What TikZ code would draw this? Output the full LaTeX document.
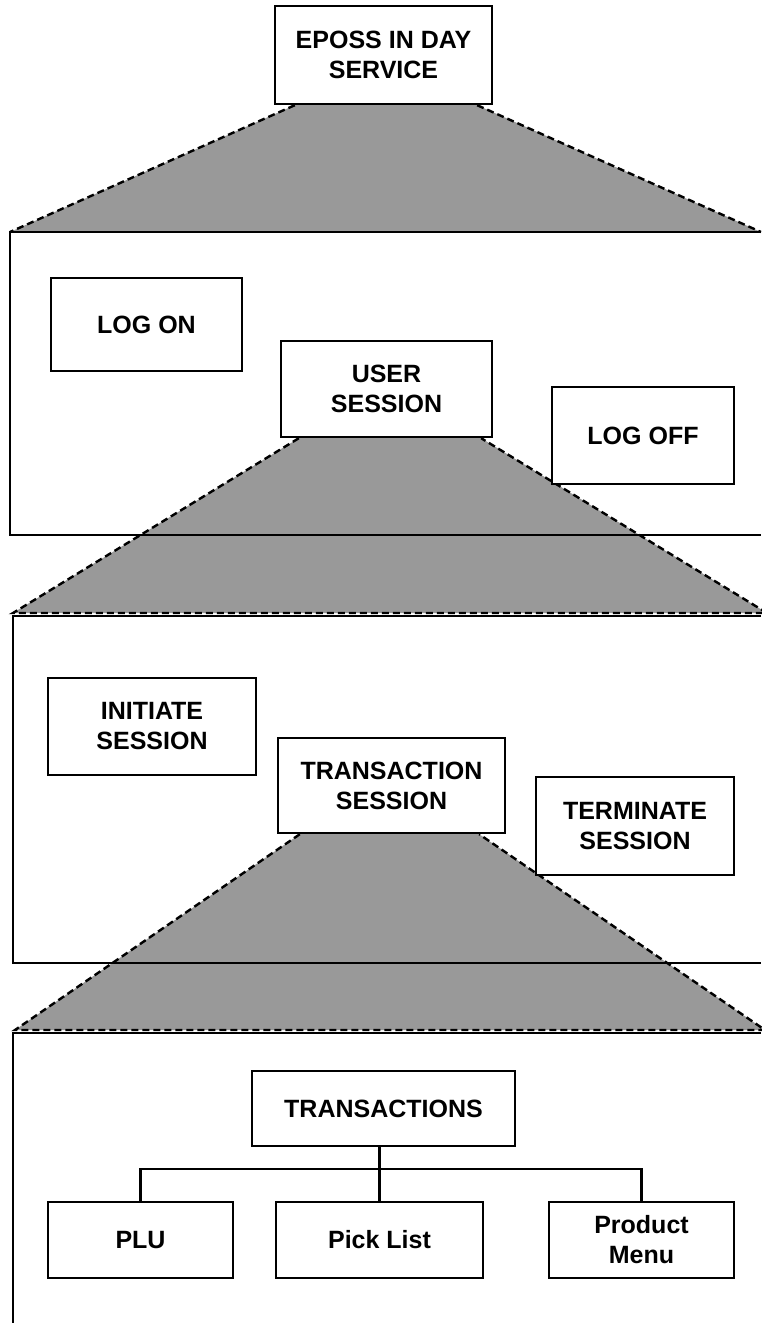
\documentclass[tikz,border=0pt]{standalone}
\usepackage{fontspec}
\setmainfont{Liberation Sans}
\usetikzlibrary{calc}
\pgfdeclarelayer{background}
\pgfsetlayers{background,main}
\tikzset{
  box/.style={draw, line width=2.4pt, fill=white, align=center, inner sep=0pt,
    font=\fontsize{25}{30}\selectfont\bfseries},
  funnel/.style={fill=black!40},
  rim/.style={line width=2.4pt, dash pattern=on 7pt off 4pt},
  frameline/.style={line width=2.4pt},
  wire/.style={line width=2.4pt},
}
\begin{document}
\begin{tikzpicture}[x=1pt,y=-1pt]
\useasboundingbox (0,0) rectangle (761,1323);
\clip (0,0) rectangle (761,1323);

% ---- level 0
\node[box, minimum width=217pt, minimum height=98pt] (eposs) at (383.5,55) {EPOSS IN DAY\\SERVICE};

% ---- level 1
\node[box, minimum width=191pt, minimum height=93pt] (logon) at (146.5,324.5) {LOG ON};
\node[box, minimum width=211pt, minimum height=96pt] (user) at (386.5,389) {USER\\SESSION};
\node[box, minimum width=182pt, minimum height=97pt] (logoff) at (643,435.5) {LOG OFF};

% ---- level 2
\node[box, minimum width=208pt, minimum height=97pt] (init) at (152,726.5) {INITIATE\\SESSION};
\node[box, minimum width=227pt, minimum height=95pt] (trsess) at (391.5,785.5) {TRANSACTION\\SESSION};
\node[box, minimum width=198pt, minimum height=98pt] (term) at (635,826) {TERMINATE\\SESSION};

% ---- level 3
\node[box, minimum width=263pt, minimum height=75pt] (trans) at (383.5,1108.5) {TRANSACTIONS};
\node[box, minimum width=185pt, minimum height=76pt] (plu) at (140.5,1240) {PLU};
\node[box, minimum width=207pt, minimum height=76pt] (pick) at (379.5,1240) {Pick List};
\node[box, minimum width=185pt, minimum height=76pt] (menu) at (641.5,1240) {Product\\Menu};

% tree connectors
\draw[wire] (plu.north) -- ++(0,-32) -| (menu.north);
\draw[wire] (pick.north) -- (pick.north |- trans.south);

% frame corners
\coordinate (f1tl) at (10,232);   \coordinate (f1tr) at (761,232);
\coordinate (f1bl) at (10,535);   \coordinate (f1br) at (761,535);
\coordinate (f2tl) at (13,616);   \coordinate (f2tr) at (761,616);
\coordinate (f2bl) at (13,963);   \coordinate (f2br) at (761,963);
\coordinate (f3tl) at (13,1033);  \coordinate (f3tr) at (761,1033);
\coordinate (f3bl) at (13,1323);

% funnel corners
\coordinate (a1) at ($(eposs.south west)+(21,0)$);
\coordinate (b1) at ($(eposs.south east)+(-16,0)$);
\coordinate (a2) at ($(user.south west)+(19,0)$);
\coordinate (b2) at ($(user.south east)+(-12,0)$);
\coordinate (c2) at (13,613);  \coordinate (d2) at (767,613);
\coordinate (a3) at ($(trsess.south west)+(23,0)$);
\coordinate (b3) at ($(trsess.south east)+(-27,0)$);
\coordinate (c3) at (15,1030); \coordinate (d3) at (765,1030);

\begin{pgfonlayer}{background}
  % shaded funnels
  \fill[funnel] (a1) -- (b1) -- (f1tr) -- (f1tl) -- cycle;
  \fill[funnel] (a2) -- (b2) -- (d2) -- (c2) -- cycle;
  \fill[funnel] (a3) -- (b3) -- (d3) -- (c3) -- cycle;
  \draw[rim] (a1) -- (f1tl);
  \draw[rim] (b1) -- (f1tr);
  \draw[rim] (a2) -- (c2) -- (d2) -- (b2);
  \draw[rim] (a3) -- (c3) -- (d3) -- (b3);
  % level frames, open on the right
  \draw[frameline] (f1tr) -- (f1tl) -- (f1bl) -- (f1br);
  \draw[frameline] (f2tr) -- (f2tl) -- (f2bl) -- (f2br);
  \draw[frameline] (f3tr) -- (f3tl) -- (f3bl);
\end{pgfonlayer}
\end{tikzpicture}
\end{document}
